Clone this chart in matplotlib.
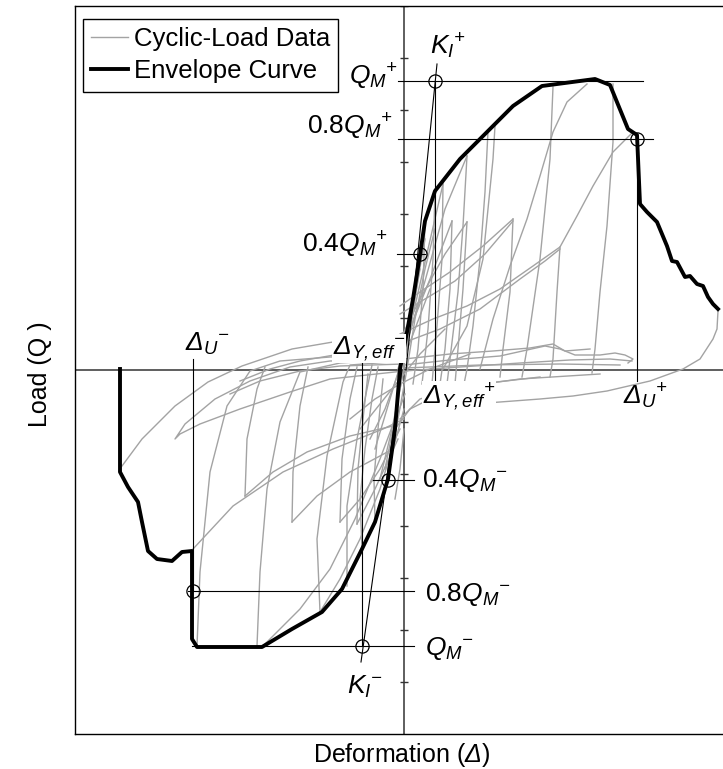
import matplotlib
matplotlib.use("Agg")
import matplotlib.pyplot as plt
import numpy as np

plt.rcParams['font.family'] = ['Liberation Sans', 'DejaVu Sans']
plt.rcParams['mathtext.fontset'] = 'custom'
# italic for the math 'rm' slot too, so the Greek Delta comes out slanted
plt.rcParams['mathtext.rm'] = 'Liberation Sans:italic'
plt.rcParams['mathtext.it'] = 'Liberation Sans:italic'

# deformation (mm) / load (kN)
env_x = [-56.8, -56.8, -55.2, -53.2, -52.4, -51.2, -49.4, -46.4, -44.4, -42.4, -42.4, -41.4,
         -28.4, -22.4, -16.4, -12.4, -8.4, -5.8, -3.2, -1.8, -0.8, 0.6, 1.8, 3.2, 4.2, 6.2,
         11.2, 16.6, 21.8, 27.6, 38.2, 41.2, 44.8, 46.6, 47.2, 48.6, 50.6, 52.6, 53.6, 54.6,
         56.2, 57.2, 58.6, 59.8, 60.8, 61.8, 62.8]
env_y = [1, -102, -117, -132, -152, -181, -189, -191, -182, -181, -269, -277,
         -277, -259, -242, -219, -179, -152, -109, -59, 1, 38, 71, 115, 149, 179,
         211, 238, 264, 284, 291, 285, 241, 235, 166, 158, 148, 124, 109, 108,
         93, 94, 86, 84, 73, 66, 61]

# cyclic-load traces, each one (x list, y list)
cyc = [
    # positive side unloading branches
    ([4.2, 3.8, 2.8, 1.8], [149, 81, 21, -14]),
    ([6.2, 5.8, 4.8, 3.6], [179, 111, 41, -14]),
    ([7.8, 7.6, 6.6, 5.6], [186, 111, 44, -14]),
    ([9.6, 9.2, 8.2, 7.2], [149, 81, 21, -14]),
    ([12.6, 11.8, 10.8, 9.2, 8.6], [214, 144, 78, 11, -14]),
    ([12.6, 11.8, 10.8, 10.2], [148, 81, 21, -14]),
    ([16.8, 16.2, 15.2, 13.8, 12.6, 12.0], [239, 178, 111, 44, 1, -14]),
    ([21.8, 21.2, 19.8, 19.2], [151, 78, 21, -7]),
    ([29.8, 29.2, 27.2, 24.6, 23.6], [283, 211, 111, 21, -7]),
    ([31.2, 30.6, 29.8, 29.2], [123, 78, 11, -7]),
    ([41.8, 41.8, 40.6, 39.2, 38.2, 37.6], [286, 228, 144, 78, 21, -3]),
    # positive side reloading branches
    ([15.2, 17.8, 21.2, 24.6, 27.2, 29.8, 32.6, 36.6], [1, 51, 104, 151, 194, 238, 268, 286]),
    ([7.8, 12.6, 15.8, 17.8, 18.2], [1, 44, 111, 211, 244]),
    ([-0.8, 5.8, 12.6, 19.2, 25.8, 31.2, 34.6, 37.8, 41.8, 45.8],
     [36, 51, 64, 81, 104, 123, 154, 184, 218, 238]),
    ([-0.8, 3.2, 9.2, 15.8, 21.8], [64, 78, 98, 124, 151]),
    ([-0.8, 4.2, 10.2, 16.2, 21.8], [56, 71, 89, 116, 149]),
    ([-0.8, 7.2, 15.2, 23.2, 28.2, 31.2], [26, 41, 61, 91, 109, 121]),
    ([-1.2, 1.2, 5.2, 9.6], [11, 41, 91, 149]),
    ([-1.2, 3.2, 8.2, 12.6], [26, 71, 116, 148]),
    ([-1.2, 1.6, 4.8, 7.8], [1, 51, 121, 186]),
    ([-0.8, 3.2, 8.2, 12.6], [6, 71, 161, 214]),
    # flat parts near zero load
    ([0, 9.2, 19.2, 24.6, 28.2, 31.2, 34.2, 39.2, 42.2, 44.2, 45.8, 44.8],
     [5, 10, 14, 20, 24, 21, 15, 15, 17, 15, 11, 7]),
    ([0, 11.2, 23.2, 33.2, 41.2, 45.6], [-1, 3, 7, 10, 11, 9]),
    ([0, 15.2, 31.2, 43.2], [2, 5, 6, 5]),
    ([0, 9.2, 17.8, 25.2, 29.8, 32.2, 37.2], [11, 16, 19, 22, 26, 19, 21]),
    # last excursion
    ([62.8, 62.6, 61.8, 59.2, 55.8, 49.2, 40.6, 33.8, 27.2, 19.2, 11.2, 5.2],
     [59, 41, 31, 11, 1, -11, -21, -26, -29, -32, -35, -39]),
    ([27.2, 15.2, 7.2, 1.2, -1.8], [-7, -14, -24, -39, -59]),
    ([39.2, 23.2, 11.2, 3.2, -0.8], [-4, -9, -17, -29, -49]),
    # negative side unloading branches
    ([-41.4, -40.8, -38.8, -35.4, -30.8, -24.8, -14.8, 0], [-276, -202, -102, -36, -1, 9, 13, 15]),
    ([-29.4, -28.8, -27.4, -24.8, -20.8, -12.8, 0], [-276, -202, -119, -52, -2, 7, 11]),
    ([-16.8, -17.4, -15.4, -12.2, -10.8, 0], [-242, -169, -86, -12, 5, 9]),
    ([-11.4, -11.4, -9.4, -7.4, -6.4], [-216, -136, -69, -19, 5]),
    ([-8.4, -8.8, -7.8, -6.4, -5.2], [-179, -129, -79, -29, 3]),
    ([-5.8, -6.0, -5.2, -4.2], [-152, -109, -59, -9]),
    ([-31.8, -31.4, -29.4, -27.8], [-126, -69, -19, 3]),
    ([-22.4, -22.2, -20.8, -19.2], [-152, -102, -36, 3]),
    ([-12.8, -12.4, -10.8, -9.4], [-152, -89, -29, 3]),
    ([-9.4, -9.2, -8.2, -7.2], [-154, -99, -49, -4]),
    # negative side reloading branches
    ([0.2, -2.2, -10.8, -19.4, -26.2, -31.8], [-24, -56, -66, -82, -102, -126]),
    ([0, -2.2, -10.8, -17.4, -22.4], [-39, -79, -102, -126, -152]),
    ([-0.8, -4.8, -8.8, -12.8], [-59, -99, -129, -152]),
    ([-1.2, -5.8, -9.4], [-69, -119, -154]),
    ([-42.2, -34.2, -24.2, -14.2, -4.2, 0], [-179, -136, -102, -79, -59, -49]),
    ([-16.8, -12.8, -8.8, -4.8, -1.8], [-242, -209, -169, -119, -69]),
    ([-28.4, -20.8, -14.8, -9.8, -4.8, -1.8], [-277, -239, -199, -149, -89, -49]),
    # negative side near zero load
    ([0, -6.8, -14.2, -22.4, -32.4, -39.2, -45.8, -52.4, -56.4],
     [19, 26, 28, 21, 4, -12, -36, -69, -96]),
    ([0, -14.8, -22.8, -30.8, -37.8, -43.8, -45.8, -44.8, -40.8, -32.8, -22.8, -14.8, 0],
     [11, 9, 3, -11, -29, -54, -69, -64, -54, -39, -22, -9, -1]),
    ([0, -12.8, -20.8, -28.8, -34.8], [6, 4, -1, -11, -24]),
    ([0, -6.8, -12.8, -20.8, -26.8, -32.8], [23, 21, 16, 9, 1, -11]),
    # dense part around the origin
    ([-3.8, -1.8, 0.2, 1.8, 3.2], [-99, -49, 11, 61, 101]),
    ([-4.8, -2.4, -0.4, 1.2, 2.8, 4.2], [-109, -59, -9, 41, 91, 131]),
    ([-5.8, -2.8, 0.2, 3.2], [-79, -29, 21, 71]),
    ([-6.8, -3.8, -0.8, 2.2, 5.2], [-69, -39, 1, 41, 81]),
    ([-2.8, -1.2, 0.6, 2.2, 4.2, 6.2], [-89, -49, 1, 51, 101, 141]),
    ([-8.8, -4.8, -0.8, 3.2, 8.2], [-59, -34, -9, 16, 41]),
    ([-10.8, -5.8, -0.8, 5.2, 13.2], [-49, -29, -14, 1, 16]),
    ([-1.8, -0.8, 0], [-129, -99, -59]),
]

# characteristic values
QM_pos, QM_neg = 289, -276
DU_pos, DY_pos = 46.6, 6.2
DU_neg, DY_neg = -42.2, -8.4
KI_pos = ([0.4, 6.6], [0, 306])
KI_neg = ([-0.4, -8.6], [0, -292])
ytick_vals = np.arange(-312, 365, 52)

fig = plt.figure(figsize=(7.23, 7.69), dpi=100)
ax = fig.add_axes([75 / 723, 35 / 769, 658 / 723, 728 / 769])
ax.set_xlim(-65.8, 65.8)
ax.set_ylim(-364, 364)
ax.set_xticks([])
ax.set_yticks([])
for s in ax.spines.values():
    s.set_linewidth(1.0)

gray = '#a3a3a3'
for i, (cx, cy) in enumerate(cyc):
    ax.plot(cx, cy, color=gray, lw=1.0, label='Cyclic-Load Data' if i == 0 else None, zorder=2)
ax.plot(env_x, env_y, color='black', lw=2.8, solid_joinstyle='round', label='Envelope Curve', zorder=4)

# zero axes and ticks on the load axis
ax.axhline(0, color='#333333', lw=1.1, zorder=1)
ax.axvline(0, color='#333333', lw=1.1, zorder=1)
ax.plot(np.zeros(len(ytick_vals)), ytick_vals, ls='none', marker='_', ms=6, mew=1.0, color='#333333', zorder=1)

lk = dict(color='black', lw=0.8, zorder=3)
ax.plot([-1.2, 47.8], [QM_pos, QM_pos], **lk)
ax.plot([-1.2, 49.8], [0.8 * QM_pos, 0.8 * QM_pos], **lk)
ax.plot([-1.4, 4.2], [0.4 * QM_pos, 0.4 * QM_pos], **lk)
ax.plot([-6.2, 2.0], [0.4 * QM_neg, 0.4 * QM_neg], **lk)
ax.plot([-43.2, 2.0], [0.8 * QM_neg, 0.8 * QM_neg], **lk)
ax.plot([-42.4, 2.0], [QM_neg, QM_neg], **lk)
ax.plot([DU_pos, DU_pos], [0.8 * QM_pos, -11], **lk)
ax.plot([DY_pos, DY_pos], [QM_pos, -11], **lk)
ax.plot([DU_neg, DU_neg], [0.8 * QM_neg, 11], **lk)
ax.plot([DY_neg, DY_neg], [QM_neg, 9], **lk)
ax.plot(*KI_pos, **lk)
ax.plot(*KI_neg, **lk)

circ_x = [DY_pos, 46.6, 3.2, -3.2, DU_neg, DY_neg]
circ_y = [QM_pos, 0.8 * QM_pos, 0.4 * QM_pos, 0.4 * QM_neg, 0.8 * QM_neg, QM_neg]
ax.plot(circ_x, circ_y, ls='none', marker='o', ms=9.5, mfc='none', mec='black', mew=0.9, zorder=5)

fs = 19
ax.text(-1.2, 286, r'$Q_M{}^{+}$', fontsize=fs, ha='right', va='baseline')
ax.text(-2.2, 236, r'0.8$Q_M{}^{+}$', fontsize=fs, ha='right', va='baseline')
ax.text(-3.2, 117, r'0.4$Q_M{}^{+}$', fontsize=fs, ha='right', va='baseline')
ax.text(5.2, 316, r'$K_I{}^{+}$', fontsize=fs, ha='left', va='baseline')
ax.text(-14.2, 16, r'$\Delta_{Y,eff}{}^{-}$', fontsize=fs, ha='left', va='baseline', zorder=6,
        bbox=dict(facecolor='white', edgecolor='none', pad=0.5))
ax.text(3.8, -34, r'$\Delta_{Y,eff}{}^{+}$', fontsize=fs, ha='left', va='baseline', zorder=6,
        bbox=dict(facecolor='white', edgecolor='none', pad=0.5))
ax.text(43.8, -34, r'$\Delta_{U}{}^{+}$', fontsize=fs, ha='left', va='baseline')
ax.text(-43.8, 19, r'$\Delta_{U}{}^{-}$', fontsize=fs, ha='left', va='baseline')
ax.text(3.6, -117, r'0.4$Q_M{}^{-}$', fontsize=fs, ha='left', va='baseline')
ax.text(4.2, -231, r'0.8$Q_M{}^{-}$', fontsize=fs, ha='left', va='baseline')
ax.text(4.2, -285, r'$Q_M{}^{-}$', fontsize=fs, ha='left', va='baseline')
ax.text(-11.4, -324, r'$K_I{}^{-}$', fontsize=fs, ha='left', va='baseline')

fig.text(40 / 723, 1 - 374 / 769, 'Load (Q )', fontsize=18, rotation=90, ha='center', va='center')
fig.text(402 / 723, 1 - 755 / 769, r'Deformation ($\Delta$)', fontsize=18, ha='center', va='center')

leg = ax.legend(loc='upper left', bbox_to_anchor=(83 / 723, 1 - 19 / 769), bbox_transform=fig.transFigure,
                fontsize=18.5, frameon=True, fancybox=False, framealpha=1, edgecolor='black',
                borderaxespad=0, borderpad=0.32, labelspacing=0.32, handlelength=1.45, handletextpad=0.2)
leg.get_frame().set_linewidth(1.0)

fig.savefig('out.png', dpi=100)
